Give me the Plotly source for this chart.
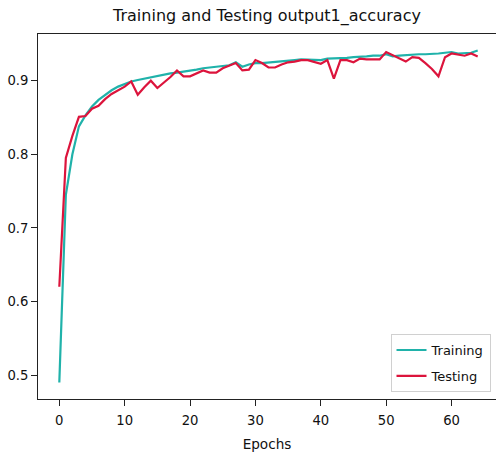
import plotly.graph_objects as go

# Per-epoch accuracy for output1
epochs = list(range(65))

training_acc = [
    0.490, 0.745, 0.800, 0.838, 0.853, 0.865, 0.874, 0.881, 0.887, 0.892,
    0.896, 0.899, 0.901, 0.903, 0.904, 0.906, 0.908, 0.910, 0.911, 0.912,
    0.913, 0.915, 0.917, 0.918, 0.918, 0.920, 0.921, 0.925, 0.919, 0.922,
    0.924, 0.924, 0.925, 0.925, 0.927, 0.928, 0.928, 0.929, 0.929, 0.928,
    0.928, 0.930, 0.930, 0.931, 0.931, 0.932, 0.932, 0.933, 0.934, 0.934,
    0.936, 0.933, 0.934, 0.935, 0.936, 0.936, 0.936, 0.936, 0.937, 0.938,
    0.939, 0.937, 0.938, 0.938, 0.941,
]

testing_acc = [
    0.620, 0.795, 0.825, 0.851, 0.852, 0.862, 0.866, 0.875, 0.882, 0.887,
    0.892, 0.899, 0.881, 0.891, 0.900, 0.890, 0.897, 0.905, 0.914, 0.906,
    0.906, 0.910, 0.914, 0.911, 0.911, 0.917, 0.921, 0.924, 0.914, 0.915,
    0.928, 0.924, 0.918, 0.918, 0.922, 0.925, 0.926, 0.928, 0.928, 0.926,
    0.923, 0.928, 0.903, 0.928, 0.928, 0.925, 0.930, 0.929, 0.929, 0.929,
    0.939, 0.935, 0.931, 0.926, 0.932, 0.931, 0.924, 0.916, 0.906, 0.932,
    0.937, 0.935, 0.934, 0.937, 0.933,
]

x_ticks = [0, 10, 20, 30, 40, 50, 60]
y_ticks = [0.5, 0.6, 0.7, 0.8, 0.9]

FONT = "DejaVu Sans"
WIDTH, HEIGHT = 496, 454

fig = go.Figure()
fig.add_trace(go.Scatter(
    x=epochs, y=training_acc, mode="lines", name="Training",
    legendgroup="train",
    line=dict(color="#20B2AA", width=2.2),
))
fig.add_trace(go.Scatter(
    x=epochs, y=testing_acc, mode="lines", name="Testing",
    legendgroup="test",
    line=dict(color="#DC143C", width=2.2),
))

axis_common = dict(
    showgrid=False, zeroline=False, showline=True, linecolor="#222222",
    linewidth=1, ticks="outside", ticklen=6, tickcolor="#222222",
    tickfont=dict(family=FONT, size=13.2, color="#111111"),
)

fig.update_layout(
    width=WIDTH, height=HEIGHT,
    margin=dict(l=38, r=0, t=34, b=55),
    paper_bgcolor="white", plot_bgcolor="white",
    font=dict(family=FONT, color="#111111"),
    title=dict(
        text="Training and Testing output1_accuracy",
        x=0.5, xref="paper", xanchor="center",
        y=1 - 15 / HEIGHT, yref="container", yanchor="middle",
        font=dict(family=FONT, size=16, color="#111111"),
    ),
    xaxis=dict(
        range=[-3.26, 66.8], tickvals=x_ticks, mirror=True,
        ticklabelstandoff=3,
        title=dict(text="Epochs", font=dict(family=FONT, size=13.6), standoff=12),
        **axis_common,
    ),
    yaxis=dict(
        range=[0.4675, 0.9635], tickvals=y_ticks, tickformat=".1f",
        **axis_common,
    ),
    showlegend=True,
    legend=dict(
        x=0.988, y=0.019, xanchor="right", yanchor="bottom",
        bgcolor="white", bordercolor="#d0d0d0", borderwidth=1,
        font=dict(family=FONT, size=13, color="#111111"),
        itemwidth=30, tracegroupgap=6,
    ),
)

fig.write_html("out.html")
